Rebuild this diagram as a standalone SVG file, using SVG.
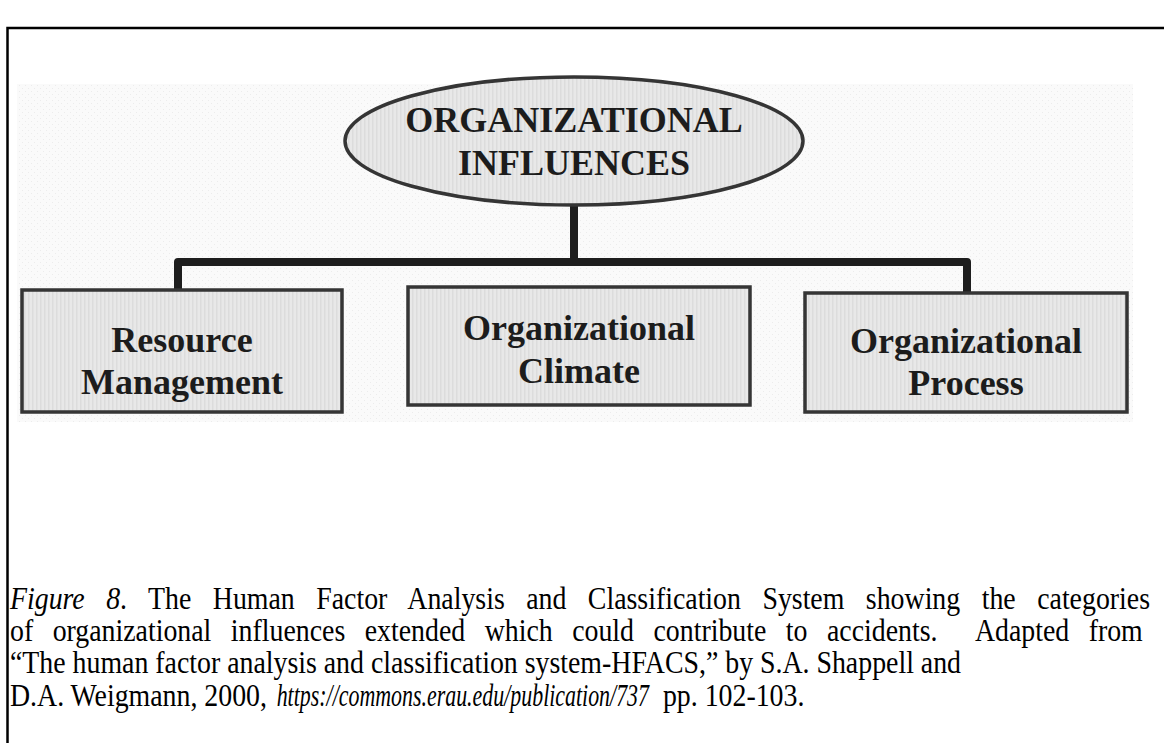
<svg xmlns="http://www.w3.org/2000/svg" width="1164" height="743" viewBox="0 0 1164 743">
  <style>
    .frame { stroke: #000; stroke-width: 2.5; fill: none; }
    .node-shape { fill: url(#stripes); stroke: #353535; stroke-width: 3.5; }
    .node-text { font-family: "Liberation Serif", "Times New Roman", serif; font-weight: bold; font-size: 36px; fill: #1c1c1c; text-anchor: middle; }
    .conn { stroke: #1e1e1e; stroke-width: 8; fill: none; stroke-linejoin: round; }
    .caption { font-family: "Liberation Serif", "Times New Roman", serif; font-size: 32px; fill: #000; }
    .it { font-style: italic; }
  </style>
  <defs>
    <pattern id="stripes" width="4" height="4" patternUnits="userSpaceOnUse">
      <rect width="4" height="4" fill="#e8e8e8"/>
      <rect x="0" width="1.5" height="4" fill="#dcdcdc"/>
    </pattern>
    <pattern id="stipple" width="6" height="6" patternUnits="userSpaceOnUse">
      <rect width="6" height="6" fill="#fafafa"/>
      <rect x="1" y="1" width="1" height="1" fill="#ececec"/>
      <rect x="4" y="4" width="1" height="1" fill="#ececec"/>
    </pattern>
  </defs>
  <rect width="1164" height="743" fill="#fff"/>
  <path class="frame" d="M7.5 743 V28 H1164"/>
  <rect x="17" y="84" width="1116" height="338" fill="url(#stipple)"/>

  <g id="connectors">
    <path class="conn" d="M574 205 V262"/>
    <path class="conn" d="M178 290 V262 H967 V293"/>
  </g>

  <g id="organizational-influences">
    <ellipse class="node-shape" cx="574" cy="141" rx="229" ry="64"/>
    <text class="node-text" x="574" y="132">ORGANIZATIONAL</text>
    <text class="node-text" x="574" y="175">INFLUENCES</text>
  </g>

  <g id="resource-management">
    <rect class="node-shape" x="22" y="290" width="320" height="122"/>
    <text class="node-text" x="182" y="352">Resource</text>
    <text class="node-text" x="182" y="394">Management</text>
  </g>

  <g id="organizational-climate">
    <rect class="node-shape" x="408" y="287" width="342" height="118"/>
    <text class="node-text" x="579" y="340">Organizational</text>
    <text class="node-text" x="579" y="383">Climate</text>
  </g>

  <g id="organizational-process">
    <rect class="node-shape" x="805" y="293" width="322" height="119"/>
    <text class="node-text" x="966" y="353">Organizational</text>
    <text class="node-text" x="966" y="395">Process</text>
  </g>

  <g id="caption" transform="scale(0.87,1)">
    <text class="caption" x="11.5" y="609" word-spacing="16.7"><tspan class="it">Figure 8</tspan>. The Human Factor Analysis and Classification System showing the categories</text>
    <text class="caption" x="11.5" y="641" word-spacing="14.4" xml:space="preserve">of organizational influences extended which could contribute to accidents.  Adapted from</text>
    <text class="caption" x="11.5" y="673">“The human factor analysis and classification system-HFACS,” by S.A. Shappell and</text>
    <text class="caption" x="11.5" y="706">D.A. Weigmann, 2000,</text>
    <text class="caption it" x="318" y="706" textLength="428" lengthAdjust="spacingAndGlyphs">https://commons.erau.edu/publication/737</text>
    <text class="caption" x="762" y="706">pp. 102-103.</text>
  </g>
</svg>
